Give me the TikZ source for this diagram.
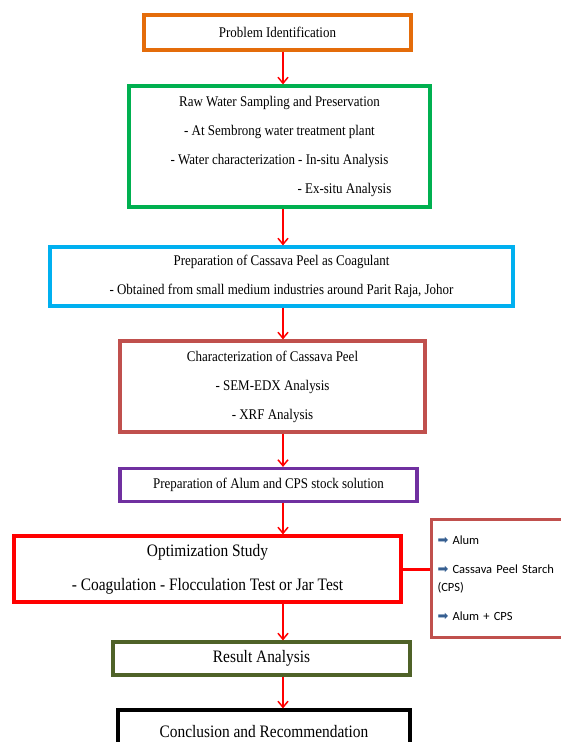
\documentclass[tikz,border=0pt]{standalone}
\usepackage{fontspec}
\usepackage{xcolor}
\setmainfont{Liberation Serif}[FakeStretch=0.88]
\newfontfamily\sidefont{Carlito}
\newfontfamily\bulfont{DejaVu Sans}
\usetikzlibrary{arrows.meta,calc}

\definecolor{boxorange}{RGB}{228,108,10}
\definecolor{boxgreen}{RGB}{0,176,80}
\definecolor{boxcyan}{RGB}{0,176,240}
\definecolor{boxbrown}{RGB}{192,80,77}
\definecolor{boxpurple}{RGB}{112,48,160}
\definecolor{boxolive}{RGB}{79,98,40}
\definecolor{bulblue}{RGB}{54,95,145}

\newcommand{\bul}{{\bulfont\color{bulblue}\fontsize{13}{13}\selectfont ➡}}

\tikzset{
	flowbox/.style={draw,line width=3.2pt,fill=white,inner sep=0pt,align=center,
		font=\fontsize{14.75}{29}\selectfont},
	bigbox/.style={flowbox,font=\fontsize{17.5}{34}\selectfont},
	flowarrow/.style={red,line width=1.5pt,-{Straight Barb[length=6pt,width=10pt]}}
}

\begin{document}
\begin{tikzpicture}[x=1pt,y=-1pt]
	\useasboundingbox (0,0) rectangle (561,742);
	\coordinate (ax) at (283,0);
	\node[flowbox,draw=boxorange,minimum width=267pt,minimum height=35pt] (problem) at (277.5,32.5) {Problem Identification};
	\node[flowbox,draw=boxgreen,minimum width=301pt,minimum height=121pt] (sampling) at (279.5,146.5)
		{Raw Water Sampling and Preservation\\
		 - At Sembrong water treatment plant\\
		 - Water characterization - In-situ Analysis\\
		 \hspace*{130pt}- Ex-situ Analysis};
	\node[flowbox,draw=boxcyan,minimum width=463pt,minimum height=59pt] (prepcp) at (281.5,276.5)
		{Preparation of Cassava Peel as Coagulant\\
		 - Obtained from small medium industries around Parit Raja, Johor};
	\node[flowbox,draw=boxbrown,minimum width=305pt,minimum height=91pt] (charcp) at (272.5,386.5)
		{Characterization of Cassava Peel\\
		 - SEM-EDX Analysis\\
		 - XRF Analysis};
	\node[flowbox,draw=boxpurple,minimum width=297pt,minimum height=33pt] (stock) at (268.5,485)
		{Preparation of Alum and CPS stock solution};
	\node[bigbox,draw=red,minimum width=387pt,minimum height=66pt] (optim) at (207.5,569)
		{Optimization Study\\
		 - Coagulation - Flocculation Test or Jar Test};
	\node[bigbox,draw=boxolive,minimum width=297pt,minimum height=33pt] (result) at (261.5,658.5)
		{Result Analysis};
	\node[bigbox,draw=black,minimum width=292pt,minimum height=44pt] (concl) at (264,732)
		{Conclusion and Recommendation};
	% coagulants
	\node[draw=boxbrown,line width=3pt,fill=white,anchor=north west,text width=140pt,
		inner xsep=6pt,minimum height=118pt,align=left,
		font=\sidefont\fontsize{12.5}{18}\selectfont] (coag) at (430,518)
		{\bul\ Alum\\[11pt]
		 \bul\ Cassava Peel Starch\\
		 (CPS)\\[11pt]
		 \bul\ Alum + CPS};
	\draw[red,line width=3pt] (optim.east) -- (optim.east -| coag.west);
	% arrows
	\draw[flowarrow] (problem.south -| ax) -- (sampling.north -| ax);
	\draw[flowarrow] (sampling.south -| ax) -- (prepcp.north -| ax);
	\draw[flowarrow] (prepcp.south -| ax) -- (charcp.north -| ax);
	\draw[flowarrow] (charcp.south -| ax) -- (stock.north -| ax);
	\draw[flowarrow] (stock.south -| ax) -- (optim.north -| ax);
	\draw[flowarrow] (optim.south -| ax) -- (result.north -| ax);
	\draw[flowarrow] (result.south -| ax) -- (concl.north -| ax);
\end{tikzpicture}
\end{document}
